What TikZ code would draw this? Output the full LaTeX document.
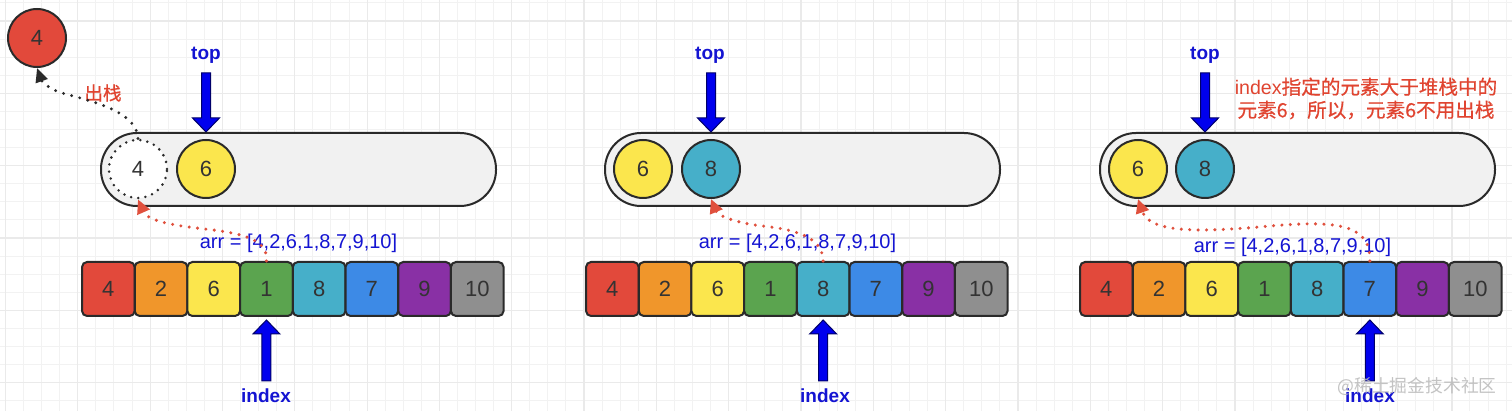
\documentclass[tikz,border=0pt]{standalone}
\usepackage{fontspec}
\setmainfont{Liberation Sans}
\newfontfamily\cjk[FakeBold=0.6]{Noto Sans CJK SC}
\newfontfamily\cjkplain{Noto Sans CJK SC}
\usetikzlibrary{arrows.meta,calc}
\definecolor{cred}{HTML}{E2493B}
\definecolor{corange}{HTML}{F0962B}
\definecolor{cyellow}{HTML}{FBE64D}
\definecolor{cgreen}{HTML}{5BA44F}
\definecolor{ccyan}{HTML}{46AFC9}
\definecolor{cblue}{HTML}{3D8AE6}
\definecolor{cpurple}{HTML}{8930A5}
\definecolor{cgray}{HTML}{8F8F8F}
\definecolor{stackfill}{HTML}{F1F1F1}
\definecolor{outl}{HTML}{2A2A2A}
\definecolor{txt}{HTML}{333333}
\definecolor{fatblue}{HTML}{0000EE}
\definecolor{fatnavy}{HTML}{00006A}
\definecolor{lblue}{HTML}{1414D2}
\definecolor{redtext}{HTML}{E04430}
\definecolor{rdot}{HTML}{E0503D}
\definecolor{minorgrid}{HTML}{F2F2F2}
\definecolor{majorgrid}{HTML}{EAEAEA}
\tikzset{
  cell/.style={draw=outl, line width=1pt, rounded corners=2.5pt, minimum width=26.3pt,
    minimum height=27pt, inner sep=0pt, font=\fontsize{11}{13}\selectfont, text=txt},
  ball/.style={circle, draw=outl, line width=1pt, minimum size=29pt, inner sep=0pt,
    font=\fontsize{11}{13}\selectfont, text=txt},
  stackbox/.style={draw=outl, line width=1pt, fill=stackfill, rounded corners=18pt,
    minimum width=197.5pt, minimum height=36.5pt, inner sep=0pt},
  ptrlabel/.style={text=lblue, font=\bfseries\fontsize{9.5}{11}\selectfont, inner sep=0pt},
  arrlabel/.style={text=lblue, font=\fontsize{10}{12}\selectfont, inner sep=0pt},
  reddots/.style={draw=rdot, line width=1.7pt, dash pattern=on 0pt off 4.2pt, line cap=round,
    -{Triangle[length=7pt,width=6.5pt]}},
  blackdots/.style={draw=outl, line width=1.6pt, dash pattern=on 0pt off 4.2pt, line cap=round,
    -{Triangle[length=7pt,width=6pt]}},
  fatdown/.pic={\filldraw[fill=fatblue, draw=fatnavy, line width=0.5pt]
    (0,0) -- (-13.5,-14) -- (-4.5,-14) -- (-4.5,-59) -- (4.5,-59) -- (4.5,-14) -- (13.5,-14) -- cycle;},
  fatup/.pic={\filldraw[fill=fatblue, draw=fatnavy, line width=0.5pt]
    (0,0) -- (-13.5,14) -- (-4.5,14) -- (-4.5,61) -- (4.5,61) -- (4.5,14) -- (13.5,14) -- cycle;}
}
\begin{document}
\begin{tikzpicture}[x=0.5pt,y=-0.5pt]
\useasboundingbox (0,0) rectangle (1512,411);
\fill[white] (0,0) rectangle (1512,411);
% grid
\foreach \i in {0,...,83} \draw[minorgrid, line width=0.5pt] ({5.5+18.08*\i},0) -- ++(0,411);
\foreach \j in {0,...,22} \draw[minorgrid, line width=0.5pt] (0,{3+18.08*\j}) -- ++(1512,0);
\foreach \i in {0,...,20} \draw[majorgrid, line width=0.6pt] ({5.5+72.32*\i},0) -- ++(0,411);
\foreach \j in {0,...,5} \draw[majorgrid, line width=0.6pt] (0,{21+72.32*\j}) -- ++(1512,0);

% ---------- arrays ----------
\foreach \p/\x in {A/82,B/586,C/1080}{
  \foreach \v/\c [count=\k] in {4/cred,2/corange,6/cyellow,1/cgreen,8/ccyan,7/cblue,9/cpurple,10/cgray}{
    \node[cell, fill=\c] (\p\k) at ({\x+52.7*(\k-0.5)},289) {\v};
  }
}

% ---------- panel A ----------
\node[stackbox] (stackA) at (298.5,169.5) {};
\node[ball, fill=white, dash pattern=on 0pt off 3.6pt, line cap=round, line width=1.4pt] (a4) at (138,169) {4};
\node[ball, fill=cyellow] (a6) at (206,169) {6};
\node[ball, fill=cred] (popped) at (37,38) {4};
\node[ptrlabel] (topA) at (206,55) {top};
\pic at (a6 |- stackA.north) {fatdown};
\node[text=redtext, font=\cjk\fontsize{9.3}{11}\selectfont, inner sep=0pt] (popA) at (103,93) {出栈};
\node[arrlabel] (arrA) at (298.5,243) {arr = [4,2,6,1,8,7,9,10]};
\pic at ($(A4.south)+(0,3)$) {fatup};
\node[ptrlabel] (indexA) at (266,396) {index};
\draw[blackdots] (a4.north) .. controls (137,112) and (95,102) .. (62,93)
  .. controls (49,89) and (42,82) .. (popped.south);
\draw[reddots] (A4.north) .. controls (268,243) and (252,234) .. (205,229)
  .. controls (168,225) and (147,220) .. (a4.south);

% ---------- panel B ----------
\node[stackbox] (stackB) at (802.5,169.5) {};
\node[ball, fill=cyellow] (b6) at (643,169) {6};
\node[ball, fill=ccyan] (b8) at (711,169) {8};
\node[ptrlabel] (topB) at (710,55) {top};
\pic at (b8 |- stackB.north) {fatdown};
\node[arrlabel] (arrB) at (797.5,243) {arr = [4,2,6,1,8,7,9,10]};
\pic at ($(B5.south)+(0,3)$) {fatup};
\node[ptrlabel] (indexB) at (825,396) {index};
\draw[reddots] (B5.north) .. controls (823,240) and (802,230) .. (762,226)
  .. controls (737,223) and (718,216) .. (b8.south);

% ---------- panel C ----------
\node[stackbox] (stackC) at (1297.5,169.5) {};
\node[ball, fill=cyellow] (c6) at (1138,169) {6};
\node[ball, fill=ccyan] (c8) at (1205,169) {8};
\node[ptrlabel] (topC) at (1205,55) {top};
\pic at (c8 |- stackC.north) {fatdown};
\node[text=redtext, font=\fontsize{9.8}{11.5}\selectfont, align=center, inner sep=0pt] (noteC) at (1366,98.5)
  {index{\cjk 指定的元素大于堆栈中的}\\{\cjk 元素6，所以，元素6不用出栈}};
\node[arrlabel] (arrC) at (1292.5,247) {arr = [4,2,6,1,8,7,9,10]};
\pic at ($(C6.south)+(0,3)$) {fatup};
\node[ptrlabel] (indexC) at (1370,396) {index};
\draw[reddots] (C6.north) .. controls (1371,222) and (1332,221) .. (1270,226)
  .. controls (1205,232) and (1150,234) .. (c6.south);
\node[text=gray!55, opacity=0.85, font=\cjkplain\fontsize{8.9}{10}\selectfont, inner sep=0pt] (wm) at (1417,386) {@稀土掘金技术社区};
\end{tikzpicture}
\end{document}
